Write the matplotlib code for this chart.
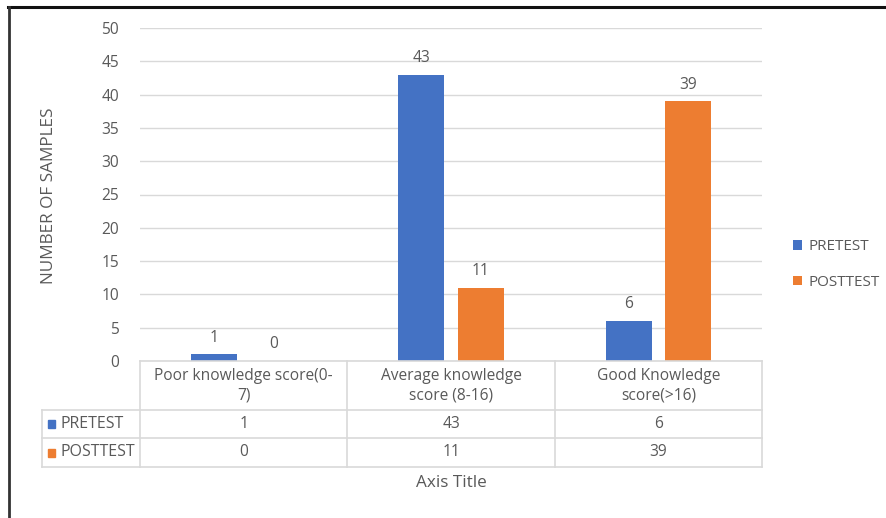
import matplotlib
matplotlib.use('Agg')
import matplotlib.pyplot as plt
import numpy as np

# Knowledge score groups and counts per test
categories = ['Poor knowledge score(0-\n7)', 'Average knowledge\nscore (8-16)', 'Good Knowledge\nscore(>16)']
series_names = ['PRETEST', 'POSTTEST']
pretest = [1, 43, 6]
posttest = [0, 11, 39]
y_ticks = [0, 5, 10, 15, 20, 25, 30, 35, 40, 45, 50]

colours = ['#4472C4', '#ED7D31']
text_col = '#595959'
grid_col = '#D9D9D9'
fs = 11.2

plt.rcParams['font.family'] = ['Open Sans', 'DejaVu Sans']

W, H = 886, 518
fig = plt.figure(figsize=(W / 100, H / 100), dpi=100)

# Helper: pixel box -> figure fraction
def px_box(x0, y0, x1, y1):
    return [x0 / W, 1 - y1 / H, (x1 - x0) / W, (y1 - y0) / H]

# Outer frame (top and left edges only)
fig.add_artist(plt.Line2D([8 / W, 1], [1 - 6.5 / H, 1 - 6.5 / H], color='#111111', lw=2.2))
fig.add_artist(plt.Line2D([8.5 / W, 8.5 / W], [0, 1 - 6.5 / H], color='#333333', lw=2.0))

# Main bar chart
ax = fig.add_axes(px_box(140, 28, 762, 361))
x = np.arange(len(categories))
bw = 0.222
off = 0.1425
for vals, name, c, sgn in [(pretest, series_names[0], colours[0], -1), (posttest, series_names[1], colours[1], 1)]:
    bars = ax.bar(x + sgn * off, vals, width=bw, color=c, label=name, zorder=3)
    for b, v in zip(bars, vals):
        ax.text(b.get_x() + b.get_width() / 2, v + 1.3, str(v), ha='center', va='bottom',
                fontsize=fs, color=text_col)
ax.set_xlim(-0.5, 2.5)
ax.set_ylim(0, 50)
ax.set_yticks(y_ticks)
ax.set_xticks([])
ax.grid(axis='y', color=grid_col, lw=1.0, zorder=0)
for s in ax.spines.values():
    s.set_visible(False)
ax.tick_params(axis='y', length=0, labelsize=fs, labelcolor=text_col, pad=15)

# Axis titles
fig.text(49 / W, 1 - 196 / H, 'NUMBER OF SAMPLES', rotation=90, ha='center', va='center',
         fontsize=12.3, color=text_col)
fig.text(451 / W, 1 - 483 / H, 'Axis Title', ha='center', va='center', fontsize=12.3, color=text_col)

# Legend on the right
leg = ax.legend(loc='center left', bbox_to_anchor=(1.027, 0.29), frameon=False, fontsize=11,
                handlelength=0.6, handleheight=0.6, handletextpad=0.45, labelspacing=1.35,
                labelcolor=text_col)

# Data table under the chart
tx = fig.add_axes(px_box(42, 361, 762, 467))
left = -0.5 - 98 / 207.33
tx.set_xlim(left, 2.5)
tx.set_ylim(106, 0)
tx.axis('off')
row_y = [0, 49, 77, 106]
lc = dict(color=grid_col, lw=1.2, clip_on=False)
# horizontal lines
tx.plot([-0.5, 2.5], [row_y[0]] * 2, **lc)
for yy in row_y[1:]:
    tx.plot([left, 2.5], [yy] * 2, **lc)
# vertical lines
tx.plot([left, left], [row_y[1], row_y[3]], **lc)
for xv in [-0.5, 0.5, 1.5, 2.5]:
    tx.plot([xv, xv], [row_y[0], row_y[3]], **lc)
for i, cat in enumerate(categories):
    tx.text(i, (row_y[0] + row_y[1]) / 2, cat, ha='center', va='center', fontsize=fs,
            color=text_col, linespacing=1.25)
rows = [pretest, posttest]
for r, (name, vals) in enumerate(zip(series_names, rows)):
    yc = (row_y[r + 1] + row_y[r + 2]) / 2
    tx.add_patch(plt.Rectangle((left + 0.027, yc - 4), 0.037, 8, color=colours[r], clip_on=False))
    tx.text(left + 0.09, yc, name, ha='left', va='center', fontsize=11.5, color=text_col)
    for i, v in enumerate(vals):
        tx.text(i, yc, str(v), ha='center', va='center', fontsize=fs, color=text_col)

fig.savefig('out.png', dpi=100)
